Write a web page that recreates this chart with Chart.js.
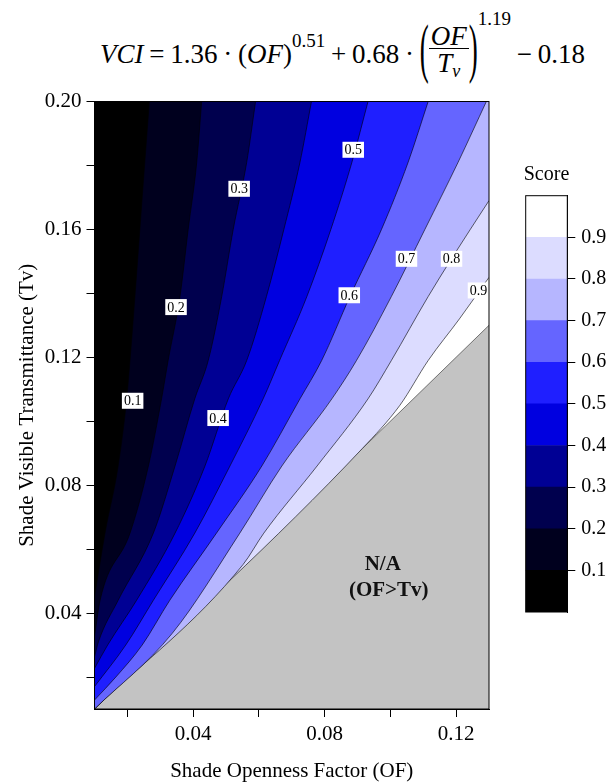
<!DOCTYPE html>
<html>
<head>
<meta charset="utf-8">
<script src="https://cdn.jsdelivr.net/npm/chart.js@4.4.1/dist/chart.umd.min.js"></script>
<style>
  html, body { margin: 0; padding: 0; background: #fff; }
  body { width: 609px; height: 784px; position: relative; overflow: hidden; font-family: "Liberation Serif", serif; color: #000; }
  #main { position: absolute; left: 0; top: 0; }
  #bar { position: absolute; left: 520px; top: 150px; }
  #formula { position: absolute; left: 100px; top: 41.4px; display: flex; align-items: baseline; font-size: 27px; line-height: 27px; white-space: pre; word-spacing: -1px; }
  #formula .it { font-style: italic; }
  #formula .sup { font-size: 19px; line-height: 19px; position: relative; top: -16px; }
  #formula .sup.hi { top: -38px; }
  #formula .big { display: inline-block; transform: translateY(-5px) scaleY(2.4); }
  #formula .frac { display: flex; flex-direction: column; align-items: stretch; text-align: center; position: relative; top: -18px; line-height: 24px; }
  #formula .num { border-bottom: 1.5px solid #000; padding: 0 2px; }
  #formula .den { padding-top: 2px; }
  #formula .sub { font-size: 18px; position: relative; top: 5px; }
  #score { position: absolute; left: 496.5px; width: 100px; top: 163px; text-align: center; font-size: 20px; line-height: 20px; }
</style>
</head>
<body>
<div id="formula"><span class="it">VCI</span><span> = 1.36 · (</span><span class="it">OF</span><span>)</span><span class="sup">0.51</span><span> + 0.68 · </span><span class="big">(</span><span class="frac"><span class="num it">OF</span><span class="den it">T<span class="sub">v</span></span></span><span class="big">)</span><span class="sup hi">1.19</span><span> − 0.18</span></div>
<canvas id="main" width="609" height="784"></canvas>
<canvas id="bar" width="89" height="480"></canvas>
<div id="score">Score</div>
<script>
// contour levels of VCI and the fill colour of each band (below 0.1 ... above 0.9)
const levels = [0.1, 0.2, 0.3, 0.4, 0.5, 0.6, 0.7, 0.8, 0.9];
const bandColors = ["#000000", "#00001e", "#00004e", "#000094", "#0000e0", "#1f1fff", "#6565ff", "#b6b6ff", "#dcdcff", "#ffffff"];
const naColor = "#c3c3c3";

// contour lines, [OF, Tv]
const contour01 = [[0.0100, 0.045], [0.0132, 0.065], [0.0172, 0.086], [0.0198, 0.107], [0.0208, 0.119], [0.0223, 0.139], [0.0238, 0.160], [0.0253, 0.181], [0.0267, 0.200]];
const contour02 = [[0.0100, 0.0326], [0.0117, 0.044], [0.0208, 0.065], [0.0264, 0.086], [0.0304, 0.107], [0.0324, 0.119], [0.0360, 0.139], [0.0385, 0.160], [0.0411, 0.181], [0.0426, 0.200]];
const contour03 = [[0.0100, 0.0263], [0.0112, 0.031], [0.0172, 0.044], [0.0279, 0.065], [0.0345, 0.086], [0.0405, 0.107], [0.0446, 0.119], [0.0487, 0.139], [0.0522, 0.160], [0.0563, 0.181], [0.0590, 0.200]];
const contour04 = [[0.0100, 0.0227], [0.0140, 0.030], [0.0228, 0.044], [0.0345, 0.065], [0.0436, 0.086], [0.0507, 0.107], [0.0563, 0.119], [0.0623, 0.139], [0.0676, 0.160], [0.0725, 0.181], [0.0760, 0.200]];
const contour05 = [[0.0100, 0.0170], [0.0195, 0.030], [0.0279, 0.044], [0.0405, 0.065], [0.0512, 0.086], [0.0613, 0.107], [0.0663, 0.119], [0.0746, 0.139], [0.0819, 0.160], [0.0883, 0.181], [0.0932, 0.200]];
const contour06 = [[0.0100, 0.0128], [0.0165, 0.020], [0.0245, 0.030], [0.0329, 0.044], [0.0471, 0.065], [0.0609, 0.086], [0.0725, 0.107], [0.0791, 0.119], [0.0877, 0.139], [0.0973, 0.160], [0.1054, 0.181], [0.1115, 0.200]];
const contour07 = [[0.0336, 0.0336], [0.0542, 0.065], [0.0670, 0.086], [0.0822, 0.107], [0.0897, 0.119], [0.1003, 0.139], [0.1105, 0.160], [0.1206, 0.181], [0.1292, 0.200]];
const contour08 = [[0.0552, 0.0552], [0.0615, 0.065], [0.0777, 0.086], [0.0932, 0.107], [0.1003, 0.119], [0.1115, 0.139], [0.1187, 0.151], [0.1300, 0.169]];
const contour09 = [[0.0915, 0.0915], [0.1029, 0.105], [0.1115, 0.119], [0.1210, 0.132], [0.1300, 0.145]];
const naBoundary = [[0.01, 0.01], [0.13, 0.13]];

const xTicks = [0.02, 0.04, 0.06, 0.08, 0.10, 0.12];
const xLabeled = [0.04, 0.08, 0.12];
const yTicks = [0.02, 0.04, 0.06, 0.08, 0.10, 0.12, 0.14, 0.16, 0.18, 0.20];
const yLabeled = [0.04, 0.08, 0.12, 0.16, 0.20];

// where the level labels sit on their lines, [OF, Tv]
const labelSpots = [[0.0216, 0.1064], [0.0348, 0.1357], [0.0540, 0.1727], [0.0476, 0.1010], [0.0887, 0.1849], [0.0875, 0.1394], [0.1049, 0.1508], [0.1186, 0.1508], [0.1268, 0.1409]];
const naSpot = [0.0995, 0.051];

Chart.defaults.font.family = '"Liberation Serif", serif';
Chart.defaults.color = "#000";

const contours = [contour01, contour02, contour03, contour04, contour05, contour06, contour07, contour08, contour09];
const toPts = (c) => c.map(([x, y]) => ({ x, y }));
const has = (list, v) => list.some((l) => Math.abs(l - v) < 1e-9);

const datasets = contours.map((c, i) => {
	const pts = toPts(c);
	// lines 0.7-0.9 start on the OF = Tv edge: run their band down that edge
	if (c[0][0] > naBoundary[0][0]) pts.unshift({ x: naBoundary[0][0], y: naBoundary[0][1] });
	return {
		label: String(levels[i]),
		data: pts,
		showLine: true,
		fill: "end",
		backgroundColor: bandColors[i],
		borderColor: "rgba(0,0,0,0.75)",
		borderWidth: 0.8,
		pointRadius: 0,
		cubicInterpolationMode: "monotone",
	};
});
datasets.push({
	label: "N/A",
	data: toPts(naBoundary),
	showLine: true,
	fill: "start",
	backgroundColor: naColor,
	borderColor: "#555",
	borderWidth: 0.8,
	pointRadius: 0,
});

const frame = {
	id: "frame",
	afterDraw(chart) {
		const { ctx, chartArea: a } = chart;
		ctx.save();
		ctx.strokeStyle = "#000";
		ctx.lineWidth = 1;
		ctx.strokeRect(a.left, a.top, a.right - a.left, a.bottom - a.top);
		ctx.restore();
	},
};

const contourText = {
	id: "contourText",
	afterDatasetsDraw(chart) {
		const { ctx, scales } = chart;
		ctx.save();
		ctx.font = '14px "Liberation Serif"';
		ctx.textAlign = "center";
		ctx.textBaseline = "middle";
		labelSpots.forEach(([x, y], i) => {
			const px = scales.x.getPixelForValue(x);
			const py = scales.y.getPixelForValue(y);
			const t = levels[i].toFixed(1);
			const w = ctx.measureText(t).width + 4;
			ctx.fillStyle = "#fff";
			ctx.fillRect(px - w / 2, py - 8, w, 16);
			ctx.fillStyle = "#000";
			ctx.fillText(t, px, py + 1);
		});
		ctx.font = 'bold 21px "Liberation Serif"';
		const nx = scales.x.getPixelForValue(naSpot[0]);
		const ny = scales.y.getPixelForValue(naSpot[1]);
		ctx.fillStyle = "#111";
		ctx.fillText("N/A", nx - 6, ny - 13);
		ctx.fillText("(OF>Tv)", nx, ny + 13);
		ctx.restore();
	},
};

new Chart(document.getElementById("main"), {
	type: "scatter",
	data: { datasets },
	options: {
		responsive: false,
		animation: false,
		events: [],
		layout: { padding: { top: 101.5, right: 120, left: 0, bottom: 0 } },
		plugins: { legend: { display: false }, tooltip: { enabled: false } },
		scales: {
			x: {
				min: 0.01,
				max: 0.13,
				afterBuildTicks: (s) => { s.ticks = xTicks.map((v) => ({ value: v })); },
				afterFit: (s) => { s.height = 75; },
				ticks: {
					autoSkip: false,
					maxRotation: 0,
					padding: 5,
					font: { size: 21 },
					callback: (v) => (has(xLabeled, v) ? v.toFixed(2) : ""),
				},
				grid: { drawOnChartArea: false, tickLength: 8, color: "#000" },
				border: { color: "#000" },
				title: { display: true, text: "Shade Openness Factor (OF)", font: { size: 21 }, padding: { top: 0, bottom: 0 } },
			},
			y: {
				min: 0.01,
				max: 0.2,
				afterBuildTicks: (s) => { s.ticks = yTicks.map((v) => ({ value: v })); },
				afterFit: (s) => { s.width = 94.5; },
				ticks: {
					autoSkip: false,
					padding: 5,
					font: { size: 21 },
					callback: (v) => (has(yLabeled, v) ? v.toFixed(2) : ""),
				},
				grid: { drawOnChartArea: false, tickLength: 8, color: "#000" },
				border: { color: "#000" },
				title: { display: true, text: "Shade Visible Transmittance (Tv)", font: { size: 21 }, padding: { top: 15, bottom: 0 } },
			},
		},
	},
	plugins: [contourText, frame],
});

// colour scale
const bounds = [0, ...levels, 1];
new Chart(document.getElementById("bar"), {
	type: "bar",
	data: {
		labels: ["Score"],
		datasets: bandColors.map((c, i) => ({
			data: [bounds[i + 1] - bounds[i]],
			backgroundColor: c,
			barPercentage: 1,
			categoryPercentage: 1,
			borderWidth: 0,
		})),
	},
	options: {
		responsive: false,
		animation: false,
		events: [],
		layout: { padding: { left: 5.7, top: 45.7, bottom: 10, right: 0 } },
		plugins: { legend: { display: false }, tooltip: { enabled: false } },
		scales: {
			x: { display: false, stacked: true },
			y: {
				position: "right",
				stacked: true,
				min: 0,
				max: 1,
				afterBuildTicks: (s) => { s.ticks = levels.map((v) => ({ value: v })); },
				afterFit: (s) => { s.width = 41.7; },
				ticks: { autoSkip: false, padding: 6, font: { size: 20 }, callback: (v) => v.toFixed(1) },
				grid: { drawOnChartArea: false, tickLength: 8, color: "#000" },
				border: { color: "#000" },
			},
		},
	},
	plugins: [frame],
});
</script>
</body>
</html>
